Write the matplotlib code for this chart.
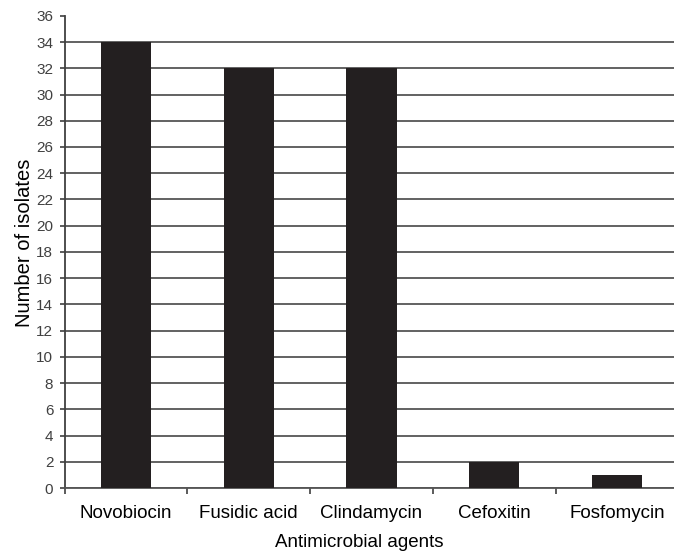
import matplotlib
matplotlib.use("Agg")
import matplotlib.pyplot as plt
import numpy as np

categories = ["Novobiocin", "Fusidic acid", "Clindamycin", "Cefoxitin", "Fosfomycin"]
isolates = [34, 32, 32, 2, 1]
y_ticks = list(range(0, 37, 2))

plt.rcParams['font.family'] = ['Liberation Sans', 'DejaVu Sans']

fig = plt.figure(figsize=(6.74, 5.54), dpi=100)
ax = fig.add_axes([64.5 / 674, 1 - 488 / 554, 614 / 674, (488 - 15.8) / 554])

x = np.arange(len(categories))
ax.bar(x, isolates, width=0.41, color="#231f20", zorder=3)

ax.set_xlim(-0.5, len(categories) - 0.5)
ax.set_ylim(0, 36)
ax.set_yticks(y_ticks)
ax.set_yticklabels([str(v) for v in y_ticks], fontsize=11, color="#404040")
ax.tick_params(axis='y', direction='out', length=3.6, width=1.2, color="#404040", pad=4.5)

ax.set_xticks(np.arange(-0.5, len(categories)), labels=[""] * (len(categories) + 1))
ax.tick_params(axis='x', which='major', direction='out', length=4.3, width=1.2, color="#404040")
ax.set_xticks(x, labels=categories, minor=True)
ax.tick_params(axis='x', which='minor', length=0, pad=12, labelsize=13.5, labelcolor="black")

ax.yaxis.grid(True, color="#555555", linewidth=1.3, zorder=1)
ax.set_axisbelow(True)
ax.yaxis.get_gridlines()[-1].set_visible(False)

for s in ['top', 'right']:
    ax.spines[s].set_visible(False)
ax.spines['left'].set_color("#404040")
ax.spines['left'].set_linewidth(1.3)
ax.spines['bottom'].set_color("#555555")
ax.spines['bottom'].set_linewidth(1.3)

ax.set_xlabel("Antimicrobial agents", fontsize=13.5)
ax.xaxis.set_label_coords(359 / 674, 1 - 547 / 554, transform=fig.transFigure)
ax.xaxis.label.set_va('baseline')

ax.set_ylabel("Number of isolates", fontsize=14.5)
ax.yaxis.set_label_coords(25 / 674, 1 - 243 / 554, transform=fig.transFigure)
ax.yaxis.label.set_va('center')

fig.savefig("out.png", dpi=100)
